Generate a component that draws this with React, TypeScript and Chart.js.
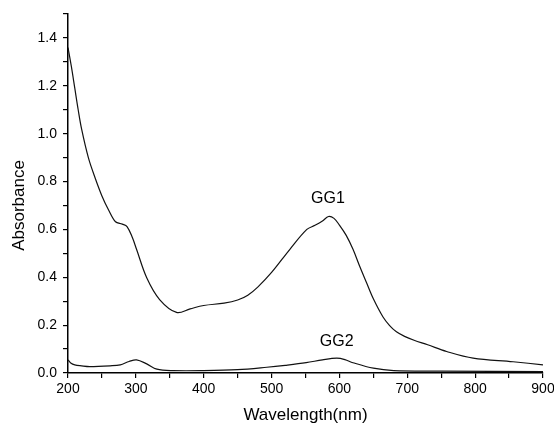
import React, { useEffect, useRef } from "react";
import { Chart, registerables } from "chart.js";

Chart.register(...registerables);

// GG1 spectrum (wavelength nm, absorbance)
const gg1Wavelength = [200, 205, 210, 215, 220, 230, 240, 250, 260, 270, 280, 287, 295, 301, 316, 335, 360, 380, 400, 430, 450, 465, 480, 500, 527, 552, 564, 575, 584, 592, 600, 610, 620, 630, 640, 650, 664, 674, 684, 696, 710, 730, 758, 797, 856, 900];
const gg1Absorbance = [1.36, 1.28, 1.19, 1.1, 1.02, 0.9, 0.815, 0.74, 0.68, 0.632, 0.622, 0.612, 0.565, 0.517, 0.398, 0.307, 0.253, 0.268, 0.282, 0.292, 0.305, 0.325, 0.36, 0.42, 0.517, 0.6, 0.617, 0.635, 0.654, 0.646, 0.618, 0.575, 0.517, 0.445, 0.377, 0.31, 0.235, 0.198, 0.172, 0.153, 0.137, 0.118, 0.09, 0.062, 0.047, 0.034];

// GG2 spectrum
const gg2Wavelength = [200, 204, 210, 220, 232, 262, 277, 290, 301, 316, 331, 355, 400, 450, 493, 520, 551, 575, 596, 608, 620, 650, 680, 750, 900];
const gg2Absorbance = [0.055, 0.042, 0.034, 0.03, 0.027, 0.03, 0.034, 0.048, 0.055, 0.038, 0.016, 0.01, 0.01, 0.014, 0.024, 0.032, 0.043, 0.055, 0.062, 0.056, 0.043, 0.02, 0.01, 0.008, 0.006];

const xTicks = [200, 300, 400, 500, 600, 700, 800, 900];
const yTickLabels = ["0.0", "0.2", "0.4", "0.6", "0.8", "1.0", "1.2", "1.4"];

const seriesLabels = [
  { text: "GG1", x: 583, y: 0.727 },
  { text: "GG2", x: 596, y: 0.13 },
];

const FONT = "'Liberation Sans', Arial, Helvetica, sans-serif";

export default function App() {
  const ref = useRef<HTMLCanvasElement | null>(null);

  useEffect(() => {
    document.body.style.margin = "0";
    const canvas = ref.current;
    if (!canvas) return;

    const textPlugin = {
      id: "textPlugin",
      afterDraw(chart: any) {
        const ctx = chart.ctx;
        const xs = chart.scales.x;
        const ys = chart.scales.y;
        ctx.save();
        ctx.fillStyle = "#000";
        ctx.textAlign = "center";
        ctx.textBaseline = "middle";
        ctx.font = `16px ${FONT}`;
        for (const l of seriesLabels) {
          ctx.fillText(l.text, xs.getPixelForValue(l.x), ys.getPixelForValue(l.y));
        }
        // y axis title
        ctx.font = `17px ${FONT}`;
        ctx.translate(19, (ys.top + ys.bottom) / 2 + 12);
        ctx.rotate(-Math.PI / 2);
        ctx.fillText("Absorbance", 0, 0);
        ctx.restore();
      },
    };

    const lineStyle = {
      borderColor: "#111",
      borderWidth: 1.2,
      pointRadius: 0,
      tension: 0.35,
      fill: false,
    };

    const chart = new Chart(canvas, {
      type: "line",
      data: {
        datasets: [
          {
            label: "GG1",
            data: gg1Wavelength.map((w, i) => ({ x: w, y: gg1Absorbance[i] })),
            ...lineStyle,
          },
          {
            label: "GG2",
            data: gg2Wavelength.map((w, i) => ({ x: w, y: gg2Absorbance[i] })),
            ...lineStyle,
          },
        ],
      },
      options: {
        animation: false,
        responsive: false,
        layout: { padding: { top: 14, right: 11, left: 0, bottom: 0 } },
        plugins: {
          legend: { display: false },
          tooltip: { enabled: false },
        },
        scales: {
          x: {
            type: "linear",
            min: 200,
            max: 900,
            border: { display: true, color: "#000", width: 1.5 },
            grid: { display: true, drawOnChartArea: false, drawTicks: true, tickLength: 5, color: "#000", lineWidth: 1.2 },
            ticks: {
              stepSize: 50,
              autoSkip: false,
              maxRotation: 0,
              padding: 4,
              color: "#000",
              font: { family: FONT, size: 14, lineHeight: 1 },
              callback: (v: any) => (xTicks.includes(Number(v)) ? String(v) : ""),
            },
            title: {
              display: true,
              text: "Wavelength(nm)",
              color: "#000",
              font: { family: FONT, size: 17, lineHeight: 1 },
              padding: { top: 11, bottom: 0 },
            },
            afterFit: (s: any) => {
              s.height = 51;
              s.paddingLeft = 0;
              s.paddingRight = 0;
            },
          },
          y: {
            min: 0,
            max: 1.5,
            border: { display: true, color: "#000", width: 1.5 },
            grid: { display: true, drawOnChartArea: false, drawTicks: true, tickLength: 5, color: "#000", lineWidth: 1.2 },
            ticks: {
              stepSize: 0.1,
              autoSkip: false,
              padding: 6,
              color: "#000",
              font: { family: FONT, size: 14 },
              callback: (v: any) => {
                const k = Math.round(Number(v) * 10);
                return k % 2 === 0 && k / 2 < yTickLabels.length ? yTickLabels[k / 2] : "";
              },
            },
            afterFit: (s: any) => {
              s.width = 68;
              s.paddingTop = 0;
              s.paddingBottom = 0;
            },
          },
        },
      },
      plugins: [textPlugin],
    });

    return () => chart.destroy();
  }, []);

  return (
    <div style={{ width: 554, height: 424 }}>
      <canvas ref={ref} width={554} height={424} style={{ display: "block" }} />
    </div>
  );
}
